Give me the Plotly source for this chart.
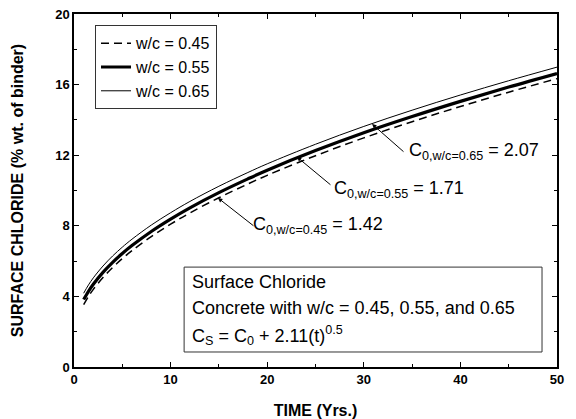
import plotly.graph_objects as go

# Data
time_yrs = [1, 1.5, 2, 3, 4, 5, 6, 8, 10, 12, 15, 18, 20, 25, 30, 35, 40, 45, 50]
cs_045 = [3.53, 4.00, 4.40, 5.07, 5.64, 6.14, 6.59, 7.39, 8.09, 8.73, 9.59, 10.37, 10.86, 11.97, 12.98, 13.90, 14.76, 15.57, 16.34]
cs_055 = [3.82, 4.29, 4.69, 5.36, 5.93, 6.43, 6.88, 7.68, 8.38, 9.02, 9.88, 10.66, 11.15, 12.26, 13.27, 14.19, 15.05, 15.86, 16.63]
cs_065 = [4.18, 4.65, 5.05, 5.72, 6.29, 6.79, 7.24, 8.04, 8.74, 9.38, 10.24, 11.02, 11.51, 12.62, 13.63, 14.55, 15.41, 16.22, 16.99]
series_names = ["w/c = 0.45", "w/c = 0.55", "w/c = 0.65"]
c0_labels = ["C<sub>0,w/c=0.45</sub> = 1.42", "C<sub>0,w/c=0.55</sub> = 1.71", "C<sub>0,w/c=0.65</sub> = 2.07"]
box_lines = ["Surface Chloride", "Concrete with w/c = 0.45, 0.55, and 0.65",
             "C<sub>S</sub> = C<sub>0</sub> + 2.11(t)<sup>0.5</sup>"]

FONT = "Arial, Liberation Sans, Helvetica, sans-serif"

fig = go.Figure()
fig.add_trace(go.Scatter(x=time_yrs, y=cs_045, mode="lines", name=series_names[0],
                         line=dict(color="black", width=1.5, dash="8px,5px", shape="spline")))
fig.add_trace(go.Scatter(x=time_yrs, y=cs_055, mode="lines", name=series_names[1],
                         line=dict(color="black", width=3.2, shape="spline")))
fig.add_trace(go.Scatter(x=time_yrs, y=cs_065, mode="lines", name=series_names[2],
                         line=dict(color="black", width=1, shape="spline")))

axis_common = dict(
    showline=True, linecolor="black", linewidth=1.5, mirror="ticks",
    ticks="inside", ticklen=5, tickwidth=1.2, tickcolor="black",
    showgrid=False, zeroline=False, automargin=False,
    tickfont=dict(family=FONT, size=13, color="black", weight="bold"),
)

fig.update_xaxes(range=[0, 50], dtick=10, tick0=0,
                 minor=dict(ticks="inside", ticklen=3, dtick=5, tickcolor="black", tickwidth=1.2),
                 title=dict(text="<b>TIME (Yrs.)</b>", font=dict(family=FONT, size=16, color="black"), standoff=20),
                 **axis_common)
fig.update_yaxes(range=[0, 20], dtick=4, tick0=0,
                 minor=dict(ticks="inside", ticklen=3, dtick=2, tickcolor="black", tickwidth=1.2),
                 title=dict(text="<b>SURFACE CHLORIDE (% wt. of binder)</b>", font=dict(family=FONT, size=16, color="black"), standoff=28),
                 **axis_common)

# Arrows to curves (tip in data coords, tail offset in px)
arrow_tips = [(14.9, 9.58), (23.08, 11.90), (30.85, 13.77)]
arrow_offsets = [(37, 29), (35, 29), (33, 29)]
for (tx, ty), (ax, ay) in zip(arrow_tips, arrow_offsets):
    fig.add_annotation(x=tx, y=ty, ax=ax, ay=ay, text="", showarrow=True,
                       arrowhead=2, arrowsize=0.9, arrowwidth=1, arrowcolor="black")

label_pos = [(18.3, 8.0), (26.7, 10.04), (34.5, 12.19)]
for (lx, ly), txt in zip(label_pos, c0_labels):
    fig.add_annotation(x=lx, y=ly, text=txt, showarrow=False, xanchor="left", yanchor="middle",
                       font=dict(family=FONT, size=18, color="black"))

# Info box
fig.add_shape(type="rect", xref="paper", yref="paper", x0=0.228, x1=0.969, y0=0.0425, y1=0.283,
              line=dict(color="#333333", width=1), fillcolor="white", layer="above")
box_y = [0.240, 0.168, 0.090]
for yy, txt in zip(box_y, box_lines):
    fig.add_annotation(xref="paper", yref="paper", x=0.24, y=yy, text=txt, showarrow=False,
                       xanchor="left", yanchor="middle", font=dict(family=FONT, size=18, color="black"))

fig.update_layout(
    width=576, height=419,
    margin=dict(l=74, r=19, t=14, b=52),
    paper_bgcolor="white", plot_bgcolor="white",
    font=dict(family=FONT, color="black"),
    legend=dict(x=0.0435, y=0.968, xanchor="left", yanchor="top",
                bgcolor="white", bordercolor="#333333", borderwidth=1,
                font=dict(family=FONT, size=16, color="black"),
                tracegroupgap=0, itemwidth=30),
    showlegend=True,
)

fig.write_html("out.html")
